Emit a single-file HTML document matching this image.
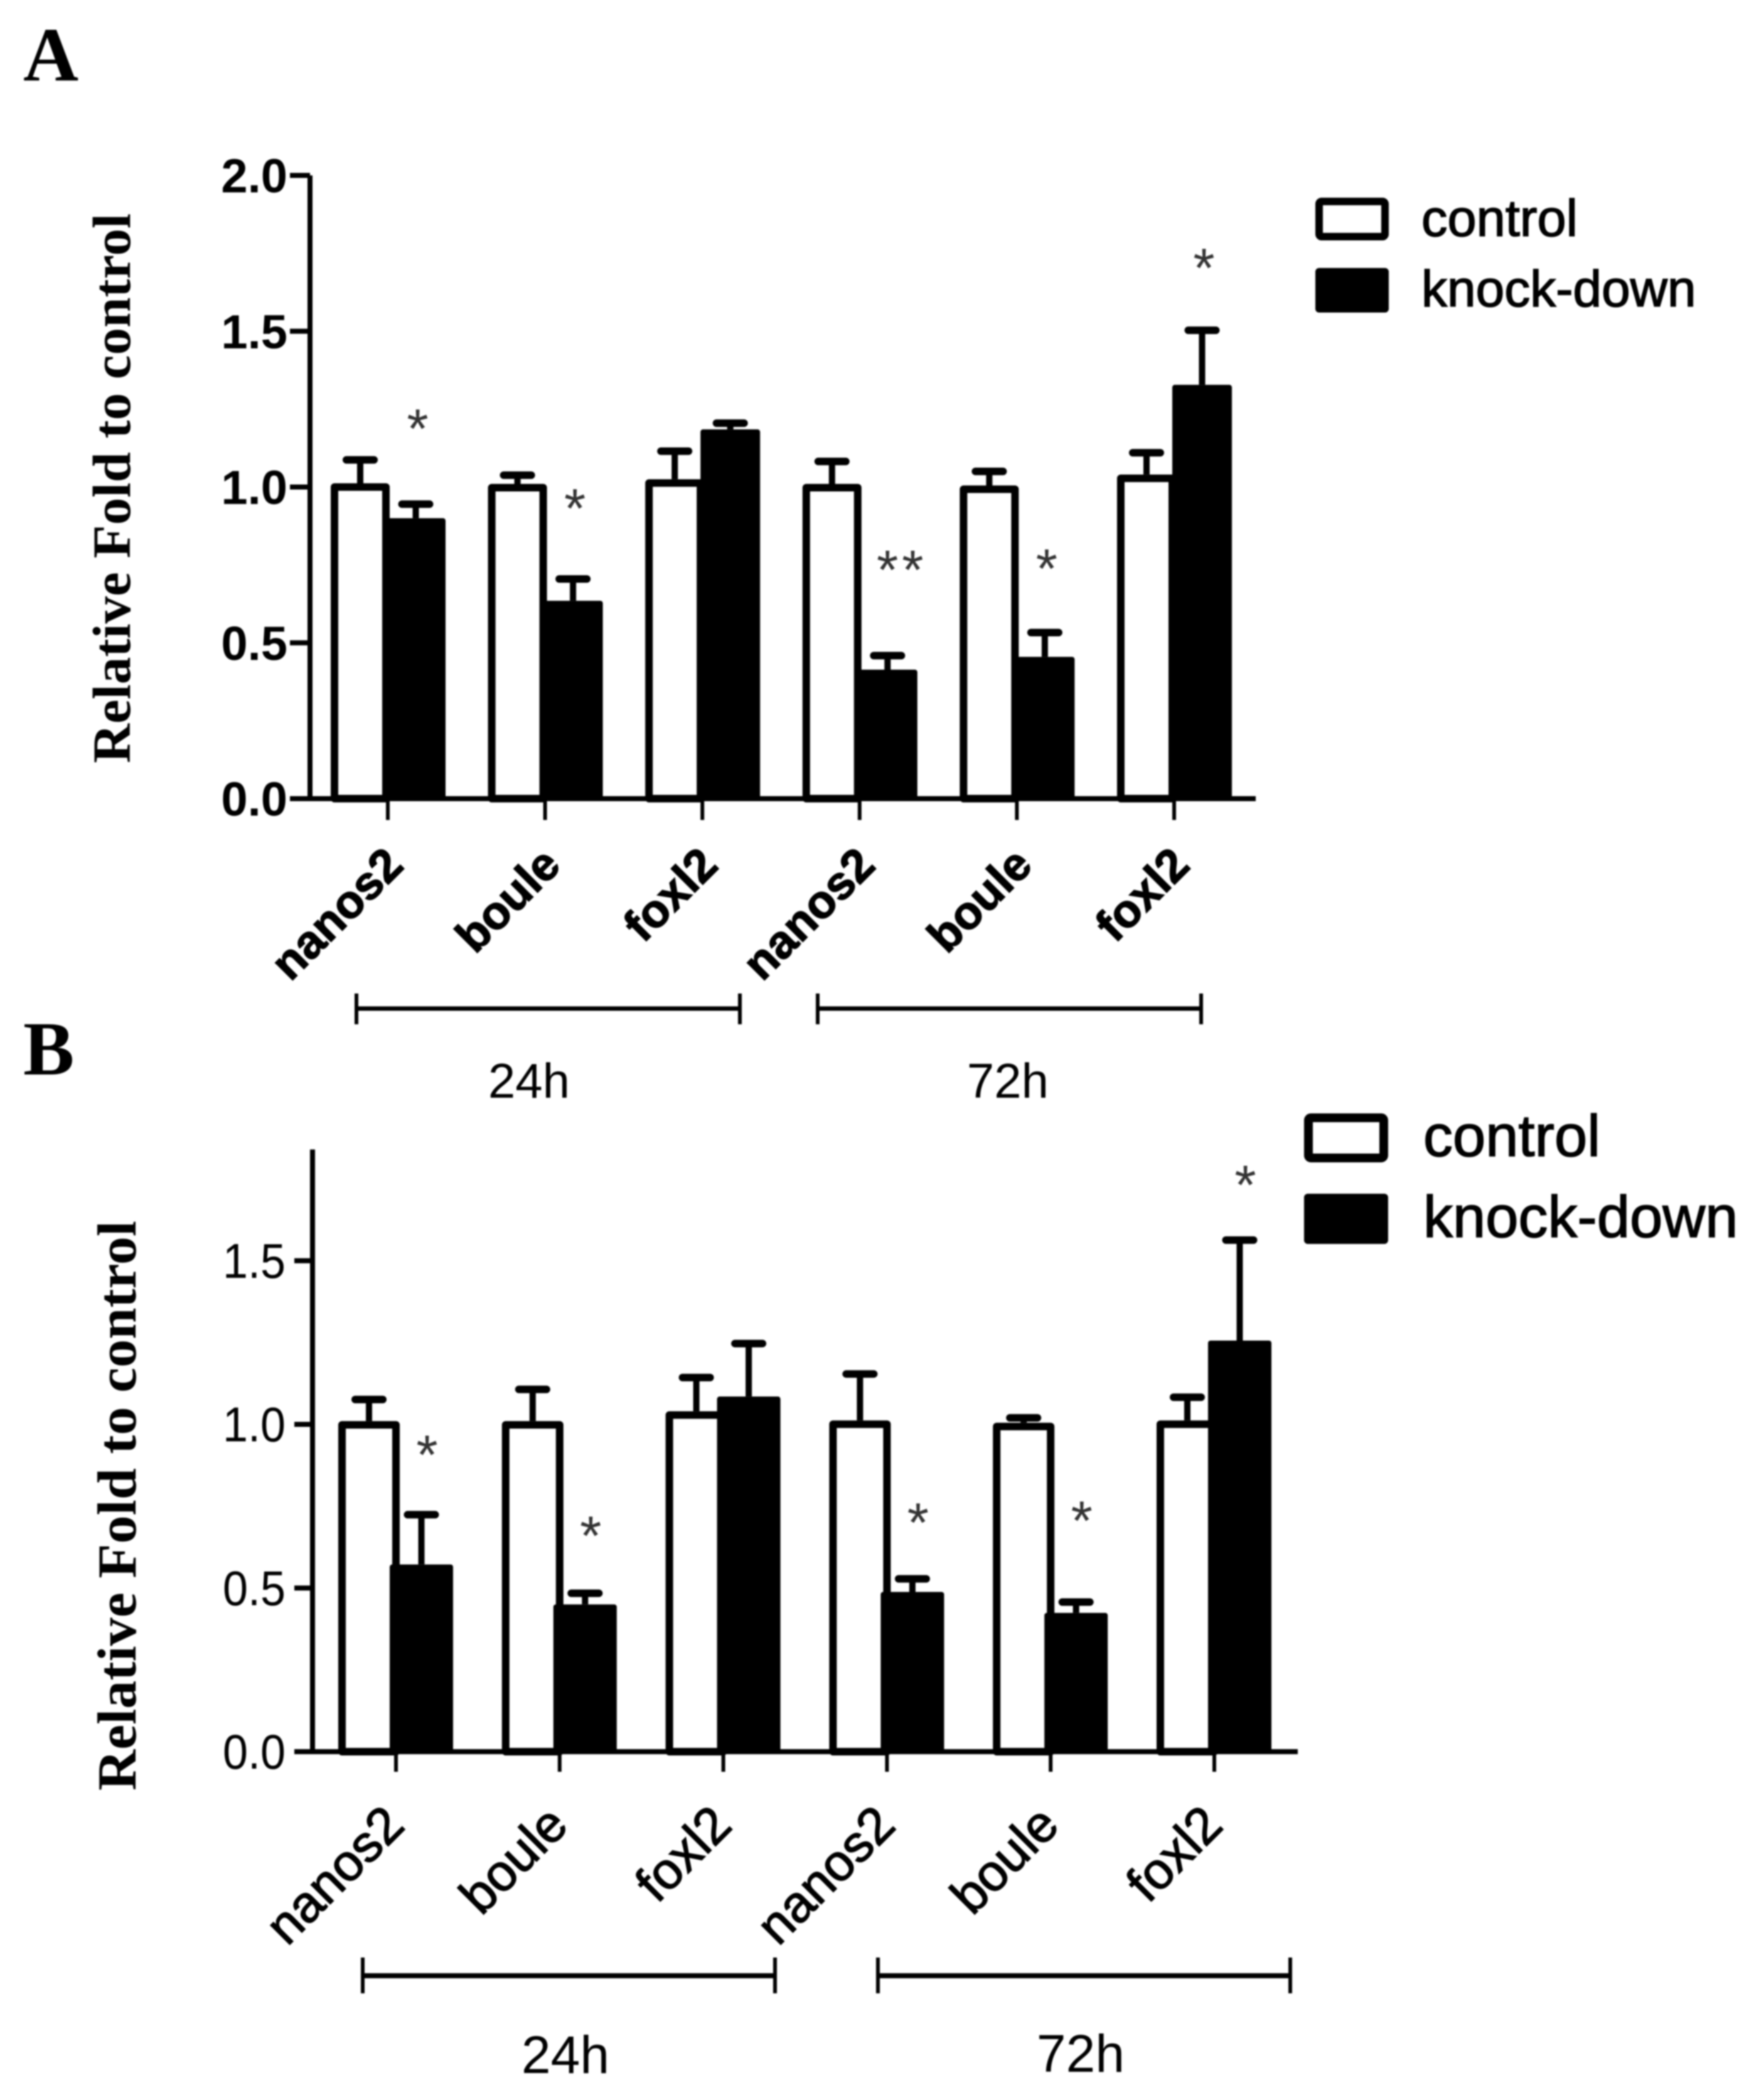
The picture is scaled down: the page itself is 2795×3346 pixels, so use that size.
<!DOCTYPE html>
<html lang="en">
<head>
<meta charset="utf-8">
<title>Relative fold to control: panels A and B</title>
<style>
html,body{margin:0;padding:0;background:#fff;width:2795px;height:3346px;overflow:hidden}
svg{display:block;filter:blur(1.2px)}
text{font-family:"Liberation Sans",sans-serif;fill:#000}
.serif{font-family:"Liberation Serif",serif;font-weight:bold}
.heavy{stroke:#000;stroke-width:1.6px}
</style>
</head>
<body>
<svg id="figure" xmlns="http://www.w3.org/2000/svg" width="2795" height="3346" viewBox="0 0 2795 3346">
  <rect x="0" y="0" width="2795" height="3346" fill="#fff"/>
  <text class="serif" x="37" y="128" font-size="122">A</text>
  <text class="serif" x="37" y="1712" font-size="122">B</text>

  <text class="serif" font-size="86" text-anchor="middle" textLength="876" lengthAdjust="spacingAndGlyphs" transform="translate(207,778) rotate(-90)">Relative Fold to control</text>
  <text class="serif" font-size="88" text-anchor="middle" textLength="908" lengthAdjust="spacingAndGlyphs" transform="translate(216,2399) rotate(-90)">Relative Fold to control</text>

  <rect x="2102" y="321" width="105" height="56" rx="4" fill="#fff" stroke="#000" stroke-width="12"/>
  <text class="heavy" x="2265" y="376" font-size="83">control</text>
  <rect x="2096" y="427" width="117" height="71" rx="6" fill="#000"/>
  <text class="heavy" x="2265" y="488" font-size="82">knock-down</text>

  <rect x="2085" y="1781" width="120" height="64" rx="4" fill="#fff" stroke="#000" stroke-width="14"/>
  <text class="heavy" x="2268" y="1842" font-size="94">control</text>
  <rect x="2078" y="1902" width="134" height="80" rx="6" fill="#000"/>
  <text class="heavy" x="2268" y="1971" font-size="94">knock-down</text>

  <g stroke="#000" fill="none">
    <line x1="568" y1="1607" x2="1179" y2="1607" stroke-width="7"/>
    <line x1="568" y1="1583" x2="568" y2="1632" stroke-width="6"/>
    <line x1="1179" y1="1583" x2="1179" y2="1632" stroke-width="6"/>
  </g>
  <g stroke="#000" fill="none">
    <line x1="1303" y1="1607" x2="1914" y2="1607" stroke-width="7"/>
    <line x1="1303" y1="1583" x2="1303" y2="1632" stroke-width="6"/>
    <line x1="1914" y1="1583" x2="1914" y2="1632" stroke-width="6"/>
  </g>
  <text x="843" y="1749" font-size="78" text-anchor="middle">24h</text>
  <text x="1606" y="1749" font-size="78" text-anchor="middle">72h</text>

  <g stroke="#000" fill="none">
    <line x1="578" y1="3148" x2="1235" y2="3148" stroke-width="8"/>
    <line x1="578" y1="3119" x2="578" y2="3176" stroke-width="6"/>
    <line x1="1235" y1="3119" x2="1235" y2="3176" stroke-width="6"/>
  </g>
  <g stroke="#000" fill="none">
    <line x1="1399" y1="3148" x2="2056" y2="3148" stroke-width="8"/>
    <line x1="1399" y1="3119" x2="1399" y2="3176" stroke-width="6"/>
    <line x1="2056" y1="3119" x2="2056" y2="3176" stroke-width="6"/>
  </g>
  <text x="901" y="3303" font-size="84" text-anchor="middle">24h</text>
  <text x="1722" y="3301" font-size="84" text-anchor="middle">72h</text>
</svg>

<script>
// Shared categories
const categories = ['nanos2', 'boule', 'foxl2', 'nanos2', 'boule', 'foxl2'];

// Panel A data (fold change, SEM, significance marks, annotation height in axis units)
const panelATicks = [0, 0.5, 1, 1.5, 2];
const panelATickLabels = ['0.0', '0.5', '1.0', '1.5', '2.0'];
const panelAControl = [1.012, 1.01, 1.025, 1.01, 1.005, 1.04];
const panelAControlErr = [0.075, 0.028, 0.09, 0.072, 0.045, 0.07];
const panelAKnockdown = [0.90, 0.635, 1.185, 0.414, 0.455, 1.328];
const panelAKnockdownErr = [0.045, 0.07, 0.02, 0.045, 0.078, 0.175];
const panelAMarks = ['*', '*', '', '**', '*', '*'];
const panelAMarkLevels = [1.205, 0.95, 0, 0.752, 0.756, 1.721];

// Panel B data
const panelBTicks = [0, 0.5, 1, 1.5];
const panelBTickLabels = ['0.0', '0.5', '1.0', '1.5'];
const panelBControl = [1.01, 1.01, 1.04, 1.012, 1.005, 1.012];
const panelBControlErr = [0.066, 0.097, 0.103, 0.142, 0.015, 0.071];
const panelBKnockdown = [0.572, 0.45, 1.085, 0.488, 0.424, 1.256];
const panelBKnockdownErr = [0.152, 0.034, 0.162, 0.04, 0.033, 0.307];
const panelBMarks = ['*', '*', '', '*', '*', '*'];
const panelBMarkLevels = [0.924, 0.677, 0, 0.717, 0.723, 1.749];

const NS = 'http://www.w3.org/2000/svg';
const svg = document.getElementById('figure');

function make(tag, attrs, parent) {
  const el = document.createElementNS(NS, tag);
  for (const k in attrs) el.setAttribute(k, attrs[k]);
  parent.appendChild(el);
  return el;
}

function drawPanel(cfg) {
  const y = v => cfg.y0 - v * cfg.pxPerUnit;
  const x = i => cfg.x0 + i * cfg.band;

  const group = make('g', {}, svg);
  
  

  cfg.control.forEach((v, i) => {
    const stemC = x(i) + cfg.cL + cfg.bw / 2;
    const capC = y(v + cfg.controlErr[i]);
    const stem = make('line', {x1: stemC, x2: stemC, y1: y(v), y2: capC, stroke: '#000', 'stroke-width': 10}, group);
    
    
    const cap = make('line', {x1: stemC - 22, x2: stemC + 22, y1: capC, y2: capC, stroke: '#000', 'stroke-width': 12, 'stroke-linecap': 'round'}, group);
    
    
    const bar = make('rect', {x: x(i) + cfg.cL + 6, y: y(v) + 6, width: cfg.bw - 12, height: cfg.y0 - y(v) - 6, fill: '#fff', stroke: '#000', 'stroke-width': 12, 'stroke-linejoin': 'round'}, group);
    
    
  });

  cfg.knock.forEach((v, i) => {
    const stemC = x(i) + cfg.kL + cfg.kw / 2;
    const capC = y(v + cfg.knockErr[i]);
    const stem = make('line', {x1: stemC, x2: stemC, y1: y(v), y2: capC, stroke: '#000', 'stroke-width': 10}, group);
    
    
    const cap = make('line', {x1: stemC - 22, x2: stemC + 22, y1: capC, y2: capC, stroke: '#000', 'stroke-width': 12, 'stroke-linecap': 'round'}, group);
    
    
    const bar = make('rect', {x: x(i) + cfg.kL, y: y(v), width: cfg.kw, height: cfg.y0 - y(v), rx: 4, fill: '#000'}, group);
    
    
  });

  const yAxis = make('line', {x1: cfg.axisX, x2: cfg.axisX, y1: y(cfg.yTop), y2: cfg.y0 + 4, stroke: '#000', 'stroke-width': 8}, group);
  
  

  const xAxis = make('line', {x1: cfg.axisLeft, x2: cfg.axisRight, y1: cfg.y0, y2: cfg.y0, stroke: '#000', 'stroke-width': 8}, group);
  
  

  cfg.ticks.forEach((t, i) => {
    const tick = make('line', {x1: cfg.axisLeft, x2: cfg.axisX, y1: y(t), y2: y(t), stroke: '#000', 'stroke-width': 8}, group);
    
    
    const attrs = {x: cfg.tickX, y: y(t) + cfg.tickDy, 'font-size': cfg.tickSize, 'font-weight': cfg.weight, 'text-anchor': 'end'};
    if (cfg.tickLength) {
      attrs.textLength = cfg.tickLength;
      attrs.lengthAdjust = 'spacingAndGlyphs';
    }
    const label = make('text', attrs, group);
    
    
    label.textContent = cfg.tickLabels[i];
  });

  categories.forEach((c, i) => {
    const tick = make('line', {x1: x(i), x2: x(i), y1: cfg.y0, y2: cfg.y0 + cfg.xTickLen, stroke: '#000', 'stroke-width': 6}, group);
    
    
    const lx = x(i) + cfg.labelDx;
    const label = make('text', {x: lx, y: cfg.labelY, 'font-size': cfg.labelSize, 'font-weight': cfg.weight, 'text-anchor': 'end', transform: 'rotate(-45 ' + lx + ' ' + cfg.labelY + ')'}, group);
    
    
    label.setAttribute('class', 'heavy');
    label.textContent = c;
  });

  cfg.marks.forEach((m, i) => {
    if (!m) return;
    const mark = make('text', {x: x(i) + cfg.kL + cfg.kw / 2 + cfg.markDx + (m.length > 1 ? 20 : 0), y: y(cfg.markLevels[i]) + 39, 'font-size': 88, 'text-anchor': 'middle', 'letter-spacing': m.length > 1 ? 6 : 0, style: 'fill:#333'}, group);
    
    
    mark.textContent = m;
  });
}

drawPanel({
  id: 'panel-a', y0: 1272.5, pxPerUnit: 496.5, x0: 618, band: 250.6,
  cL: -91, kL: -3, bw: 94, kw: 95, axisX: 494, axisLeft: 462, axisRight: 2001, yTop: 2,
  xTickLen: 34, ticks: panelATicks, tickLabels: panelATickLabels, tickX: 458, tickDy: 27, tickSize: 76, weight: 'bold',
  labelDx: 28, labelY: 1382, labelSize: 74, markDx: 3,
  control: panelAControl, controlErr: panelAControlErr,
  knock: panelAKnockdown, knockErr: panelAKnockdownErr,
  marks: panelAMarks, markLevels: panelAMarkLevels
});

drawPanel({
  id: 'panel-b', y0: 2791, pxPerUnit: 521.5, x0: 631, band: 260.8,
  cL: -92, kL: -10, bw: 98, kw: 101, axisX: 498, axisLeft: 469, axisRight: 2068, yTop: 1.84,
  xTickLen: 32, ticks: panelBTicks, tickLabels: panelBTickLabels, tickX: 455, tickDy: 27, tickSize: 78, tickLength: 100, weight: 'normal',
  labelDx: 17, labelY: 2912, labelSize: 82, markDx: 9,
  control: panelBControl, controlErr: panelBControlErr,
  knock: panelBKnockdown, knockErr: panelBKnockdownErr,
  marks: panelBMarks, markLevels: panelBMarkLevels
});
</script>
</body>
</html>
